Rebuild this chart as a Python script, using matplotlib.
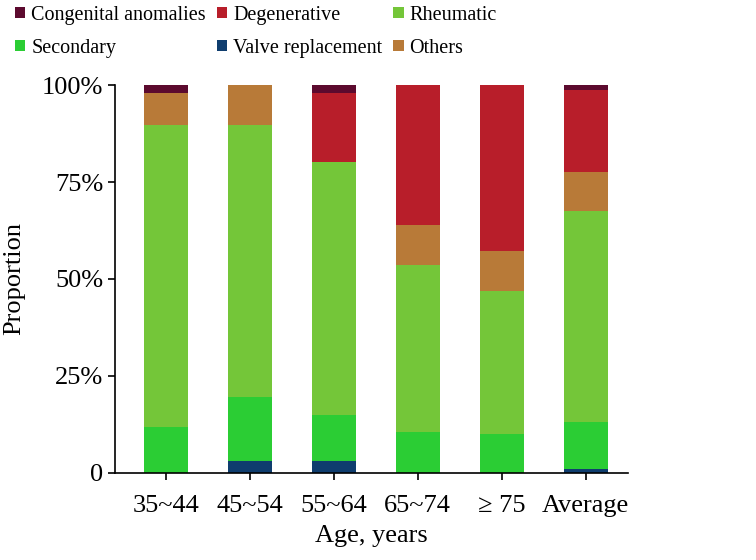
import matplotlib
matplotlib.use("Agg")
import matplotlib.pyplot as plt
import numpy as np

categories = ["35~44", "45~54", "55~64", "65~74", "≥ 75", "Average"]
valve = [0.0, 3.0, 3.0, 0.0, 0.0, 1.0]
secondary = [11.9, 16.4, 11.9, 10.6, 9.9, 12.2]
rheumatic = [77.9, 70.3, 65.4, 43.1, 37.1, 54.4]
others = [8.3, 10.3, 0.0, 10.2, 10.2, 9.9]
degenerative = [0.0, 0.0, 17.8, 36.1, 42.8, 21.4]
congenital = [1.9, 0.0, 1.9, 0.0, 0.0, 1.1]

series = [
    ("Valve replacement", valve, "#0f3d6e"),
    ("Secondary", secondary, "#2bcd34"),
    ("Rheumatic", rheumatic, "#74c639"),
    ("Others", others, "#b87a38"),
    ("Degenerative", degenerative, "#b81e2a"),
    ("Congenital anomalies", congenital, "#5c0a2e"),
]

plt.rcParams['font.family'] = ['Liberation Serif', 'DejaVu Serif']

fig = plt.figure(figsize=(7.56, 5.6), dpi=100)
ax = fig.add_axes([0.1525, 0.156, 0.678, 0.6917])

x = np.arange(len(categories))
bottom = np.zeros(len(categories))
handles = {}
for name, vals, col in series:
    v = np.array(vals)
    b = ax.bar(x, v, 0.524, bottom=bottom, color=col, label=name, linewidth=0)
    handles[name] = b
    bottom += v

ax.set_xlim(-0.6, 5.5)
ax.set_ylim(0, 100)
ax.set_yticks([0, 25, 50, 75, 100])
ax.set_yticklabels(["0", "25%", "50%", "75%", "100%"])
ax.set_xticks(x)
ax.set_xticklabels(categories)
for s in ["top", "right"]:
    ax.spines[s].set_visible(False)
for s in ["left", "bottom"]:
    ax.spines[s].set_linewidth(1.2)
ax.tick_params(axis='both', labelsize=19, width=1.2, length=5, direction='out')
ax.tick_params(axis='x', pad=11)
ax.set_xlabel("Age, years", fontsize=19, labelpad=6)
ax.set_ylabel("Proportion", fontsize=19, labelpad=12)

order = ["Congenital anomalies", "Secondary", "Degenerative", "Valve replacement", "Rheumatic", "Others"]
leg = fig.legend([handles[n] for n in order], order, loc='upper left',
                 bbox_to_anchor=(0.007, 1.008), ncol=3, frameon=False, borderpad=0,
                 fontsize=14.5, handlelength=0.5, handleheight=0.5,
                 handletextpad=0.3, columnspacing=0.55, labelspacing=0.7)

fig.savefig("out.png", dpi=100)
